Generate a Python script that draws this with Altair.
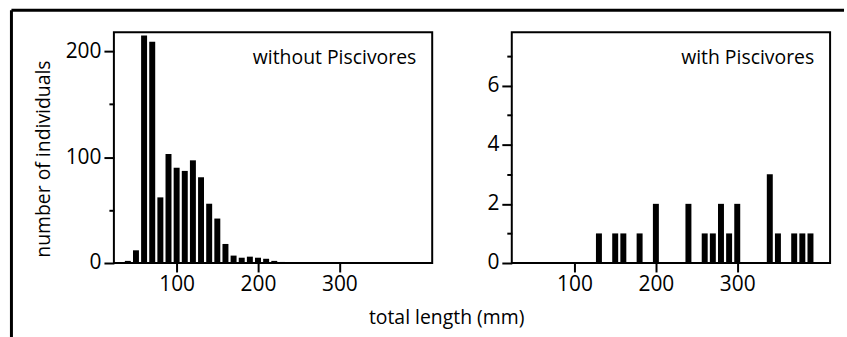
import altair as alt
import pandas as pd

# ---- data ----
lengths_without = [40, 50, 60, 70, 80, 90, 100, 110, 120, 130, 140, 150,
                   160, 170, 180, 190, 200, 210, 220, 230]
counts_without = [2, 12, 215, 209, 62, 103, 90, 87, 97, 81, 56, 42,
                  18, 7, 5, 6, 5, 4, 2, 1]

lengths_with = [130, 150, 160, 180, 200, 240, 260, 270, 280, 290, 300,
                340, 350, 370, 380, 390]
counts_with = [1, 1, 1, 1, 2, 2, 1, 1, 2, 1, 2, 3, 1, 1, 1, 1]

panel_labels = ["without Piscivores", "with Piscivores"]
x_ticks = [100, 200, 300]
y_ticks_without = [0, 50, 100, 150, 200]
y_ticks_with = [0, 1, 2, 3, 4, 5, 6, 7]
x_title = "total length (mm)"
y_title = "number of individuals"

FONT = "Open Sans"
FS_LABEL = 21
FS_TEXT = 19.5
X_DOMAIN = [29, 408]
W, H = 320, 232


def make_panel(lengths, counts, ymax, yticks, major_every, label, left):
    df = pd.DataFrame({"length": lengths, "count": counts})
    x_axis = dict(
        values=x_ticks, tickSize=9, tickWidth=2, domain=False,
        labelFont=FONT, labelFontSize=FS_LABEL, labelColor="black", labelPadding=2,
        grid=False, tickColor="black",
    )
    if left:
        x_axis.update(title=x_title, titleFont=FONT, titleFontSize=FS_TEXT,
                      titleFontWeight="normal", titleColor="black",
                      titleX=334, titleY=61, titleAlign="center",
                      titleBaseline="alphabetic")
    else:
        x_axis.update(title=None)
    y_axis = dict(
        values=yticks, domain=False, grid=False, tickColor="black", tickWidth=2,
        tickSize={"condition": {"test": f"datum.value % {major_every} != 0", "value": 5}, "value": 10},
        labelExpr=f"datum.value % {major_every} == 0 ? datum.label : ''",
        labelFont=FONT, labelFontSize=FS_LABEL, labelColor="black", labelPadding=3,
    )
    if left:
        y_axis.update(title=y_title, titleFont=FONT, titleFontSize=FS_TEXT,
                      titleFontWeight="normal", titleColor="black",
                      titleX=-65, titleY=127, titleAlign="center",
                      titleBaseline="alphabetic", titleAngle=270)
    else:
        y_axis.update(title=None)

    bars = alt.Chart(df).mark_bar(size=6, color="black").encode(
        x=alt.X("length:Q", scale=alt.Scale(domain=X_DOMAIN, nice=False, zero=False),
                axis=alt.Axis(**x_axis)),
        y=alt.Y("count:Q", scale=alt.Scale(domain=[0, ymax], nice=False),
                axis=alt.Axis(**y_axis)),
    )
    lab = alt.Chart(pd.DataFrame({"t": [label]})).mark_text(
        font=FONT, fontSize=FS_TEXT, align="right", baseline="alphabetic", color="black"
    ).encode(text="t:N", x=alt.value(W - 16), y=alt.value(32))
    layers = [bars, lab]
    if left:
        deco = pd.DataFrame({"k": [0]})
        top_rule = alt.Chart(deco).mark_rule(color="black", strokeWidth=3).encode(
            x=alt.value(-103), x2=alt.value(734), y=alt.value(-22))
        left_rule = alt.Chart(deco).mark_rule(color="black", strokeWidth=3).encode(
            x=alt.value(-103), y=alt.value(-22), y2=alt.value(307))
        layers += [top_rule, left_rule]
    return alt.layer(*layers).properties(width=W, height=H)


left = make_panel(lengths_without, counts_without, 218, y_ticks_without, 100,
                  panel_labels[0], True)
right = make_panel(lengths_with, counts_with, 7.8, y_ticks_with, 2,
                   panel_labels[1], False)

chart = alt.hconcat(left, right, spacing=80, bounds="flush").properties(
    padding={"left": 8.5, "top": 6.5, "right": 0, "bottom": 0},
    background="white",
).configure_view(stroke="black", strokeWidth=2)

chart.save("out.html", embed_options={"renderer": "svg", "actions": False})
